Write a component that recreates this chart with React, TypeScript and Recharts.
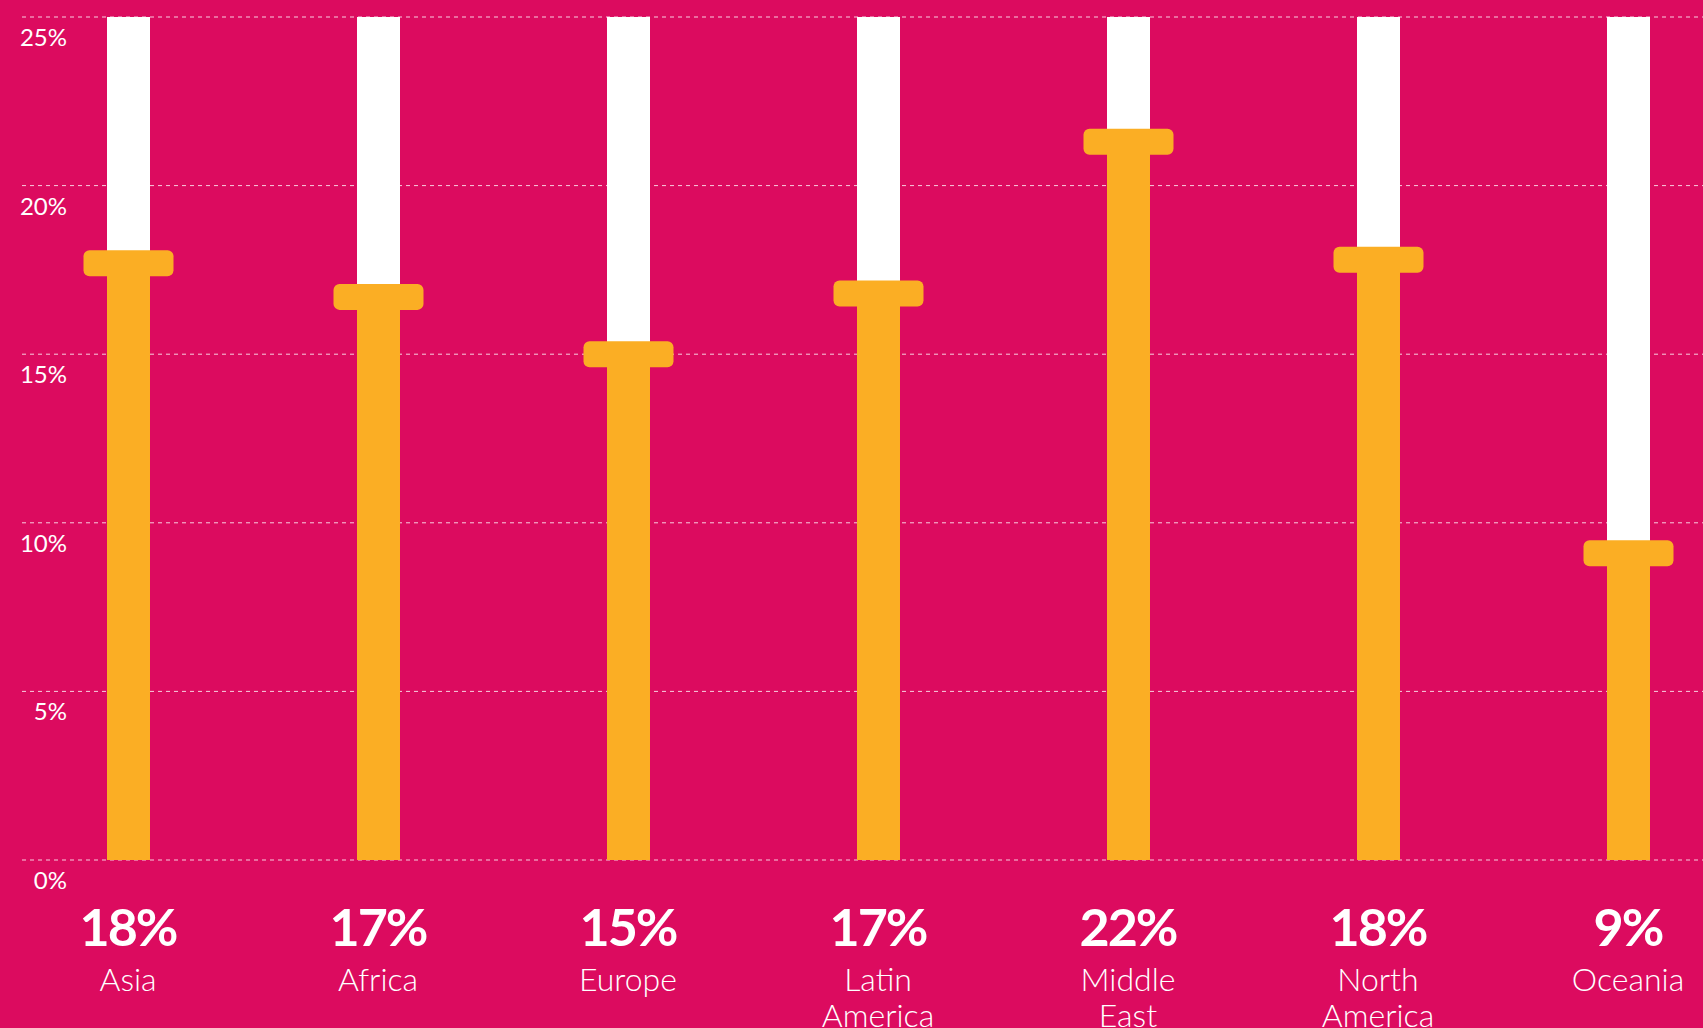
import { Bar, BarChart, CartesianGrid, XAxis, YAxis } from "recharts";

const regions = ["Asia", "Africa", "Europe", "Latin America", "Middle East", "North America", "Oceania"];
const shares = [17.7, 16.7, 15.0, 16.8, 21.3, 17.8, 9.1];
const shareLabels = ["18%", "17%", "15%", "17%", "22%", "18%", "9%"];
const yTicks = [0, 5, 10, 15, 20, 25];

const PINK = "#DC0B5F";
const ORANGE = "#FBAE24";
const FONT = "Lato, 'Open Sans', sans-serif";

const data = regions.map((name, i) => ({ name, value: shares[i], label: shareLabels[i] }));

// orange stem plus the rounded "cap" centred on the value
function CapBar(props: any) {
  const { x, y, width, height } = props;
  const cx = x + width / 2;
  return (
    <g>
      <rect x={x} y={y} width={width} height={height} fill={ORANGE} />
      <rect x={cx - 45} y={y - 13} width={90} height={26} rx={6} ry={6} fill={ORANGE} />
    </g>
  );
}

function YTick(props: any) {
  const { y, payload } = props;
  return (
    <text x={67} y={y + 29} textAnchor="end" fill="#fff" fontSize={24} fontFamily={FONT}>
      {payload.value}%
    </text>
  );
}

function XTick(props: any) {
  const { x, payload, index } = props;
  const lines = String(payload.value).split(" ");
  return (
    <g>
      <text
        x={x}
        y={946}
        textAnchor="middle"
        fill="#fff"
        fontSize={52}
        fontWeight={700}
        letterSpacing={-2}
        fontFamily={FONT}
      >
        {shareLabels[index]}
      </text>
      {lines.map((line, i) => (
        <text
          key={line}
          x={x}
          y={991 + i * 36}
          textAnchor="middle"
          fill="#fff"
          fontSize={32}
          fontWeight={300}
          fontFamily={FONT}
        >
          {line}
        </text>
      ))}
    </g>
  );
}

export default function App() {
  return (
    <div
      style={{
        position: "absolute",
        left: 0,
        top: 0,
        width: 1703,
        height: 1028,
        overflow: "hidden",
        background: PINK,
      }}
    >
      <BarChart width={1760} height={1028} data={data} margin={{ top: 17, right: 7, bottom: 0, left: 3 }}>
        <CartesianGrid
          vertical={false}
          x={22}
          width={1740}
          stroke="#fff"
          strokeOpacity={0.8}
          strokeDasharray="4 4"
        />
        <XAxis
          dataKey="name"
          height={168}
          axisLine={false}
          tickLine={false}
          interval={0}
          tick={<XTick />}
        />
        <YAxis
          domain={[0, 25]}
          ticks={yTicks}
          mirror
          axisLine={false}
          tickLine={false}
          tick={<YTick />}
        />
        <Bar
          dataKey="value"
          barSize={43}
          background={{ fill: "#fff" }}
          shape={<CapBar />}
          isAnimationActive={false}
        />
      </BarChart>
    </div>
  );
}
